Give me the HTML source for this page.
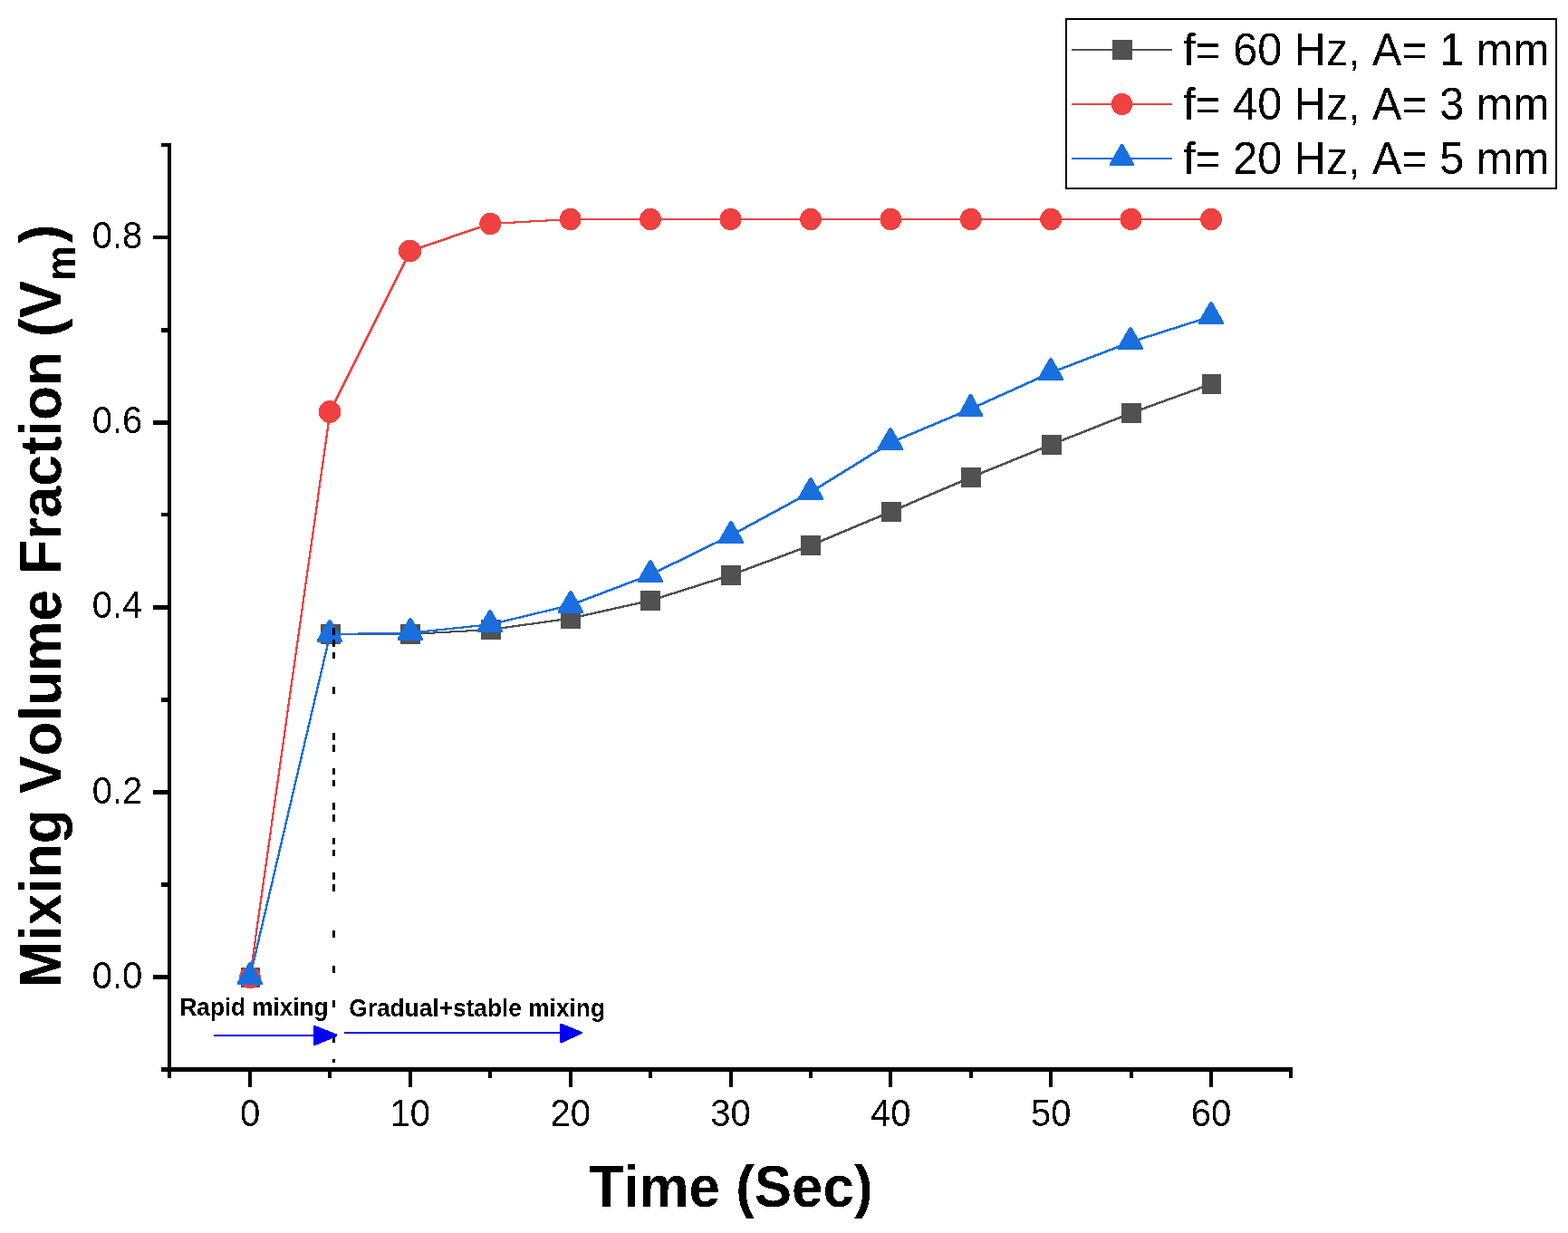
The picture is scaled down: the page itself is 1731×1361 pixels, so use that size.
<!DOCTYPE html>
<html lang="en"><head><meta charset="utf-8"><title>Mixing Volume Fraction vs Time</title>
<style>
html,body{margin:0;padding:0;background:#fff;}
body{width:1731px;height:1361px;overflow:hidden;}
svg{display:block;}
text{font-family:"Liberation Sans",sans-serif;fill:#000;font-kerning:none;}
.tick{font-size:40px;}
.title{font-size:61.9px;font-weight:bold;}
.ytitle{font-size:62.3px;font-weight:bold;}
.sub{font-size:43.5px;font-weight:bold;}
.leg{font-size:48.55px;}
.ann{font-size:26.15px;font-weight:bold;}
.ann2{font-size:26.3px;font-weight:bold;}
</style></head><body>
<svg width="1731" height="1361" viewBox="0 0 1731 1361">
<defs><filter id="alias" x="-5%" y="-5%" width="110%" height="110%" color-interpolation-filters="sRGB"><feComponentTransfer><feFuncA type="discrete" tableValues="0 1"/></feComponentTransfer></filter></defs>
<rect x="0" y="0" width="1731" height="1361" fill="#ffffff"/>
<g id="series" shape-rendering="crispEdges">
<g stroke="#515151" fill="none"><line x1="276.0" y1="1078.5" x2="364.4" y2="700.0" stroke-width="2.40"/><line x1="364.4" y1="700.0" x2="452.8" y2="700.0" stroke-width="2.00"/><line x1="452.8" y1="700.0" x2="541.3" y2="695.0" stroke-width="2.11"/><line x1="541.3" y1="695.0" x2="629.7" y2="682.6" stroke-width="2.26"/><line x1="629.7" y1="682.6" x2="718.1" y2="662.9" stroke-width="2.39"/><line x1="718.1" y1="662.9" x2="806.5" y2="634.9" stroke-width="2.51"/><line x1="806.5" y1="634.9" x2="894.9" y2="602.0" stroke-width="2.57"/><line x1="894.9" y1="602.0" x2="983.3" y2="564.9" stroke-width="2.62"/><line x1="983.3" y1="564.9" x2="1071.8" y2="526.9" stroke-width="2.63"/><line x1="1071.8" y1="526.9" x2="1160.2" y2="490.9" stroke-width="2.61"/><line x1="1160.2" y1="490.9" x2="1248.6" y2="456.0" stroke-width="2.59"/><line x1="1248.6" y1="456.0" x2="1337.0" y2="423.9" stroke-width="2.56"/></g>
<rect x="266" y="1068" width="21" height="22" fill="#515151"/>
<rect x="354" y="689" width="22" height="22" fill="#515151"/>
<rect x="442" y="689" width="22" height="22" fill="#515151"/>
<rect x="531" y="684" width="22" height="22" fill="#515151"/>
<rect x="619" y="672" width="22" height="22" fill="#515151"/>
<rect x="707" y="652" width="22" height="22" fill="#515151"/>
<rect x="796" y="624" width="22" height="22" fill="#515151"/>
<rect x="884" y="591" width="22" height="22" fill="#515151"/>
<rect x="973" y="554" width="22" height="22" fill="#515151"/>
<rect x="1061" y="516" width="22" height="22" fill="#515151"/>
<rect x="1150" y="480" width="22" height="22" fill="#515151"/>
<rect x="1238" y="445" width="22" height="22" fill="#515151"/>
<rect x="1327" y="413" width="21" height="22" fill="#515151"/>
<g stroke="#F14040" fill="none"><line x1="276.0" y1="1078.5" x2="364.4" y2="454.5" stroke-width="2.26"/><line x1="364.4" y1="454.5" x2="452.8" y2="277.0" stroke-width="2.68"/><line x1="452.8" y1="277.0" x2="541.3" y2="247.0" stroke-width="2.54"/><line x1="541.3" y1="247.0" x2="629.7" y2="242.0" stroke-width="2.11"/><line x1="629.7" y1="242.0" x2="718.1" y2="242.0" stroke-width="2.00"/><line x1="718.1" y1="242.0" x2="806.5" y2="242.0" stroke-width="2.00"/><line x1="806.5" y1="242.0" x2="894.9" y2="242.0" stroke-width="2.00"/><line x1="894.9" y1="242.0" x2="983.3" y2="242.0" stroke-width="2.00"/><line x1="983.3" y1="242.0" x2="1071.8" y2="242.0" stroke-width="2.00"/><line x1="1071.8" y1="242.0" x2="1160.2" y2="242.0" stroke-width="2.00"/><line x1="1160.2" y1="242.0" x2="1248.6" y2="242.0" stroke-width="2.00"/><line x1="1248.6" y1="242.0" x2="1337.0" y2="242.0" stroke-width="2.00"/></g>
<ellipse cx="276.00" cy="1079.00" rx="11.9" ry="12.2" fill="#F14040"/>
<ellipse cx="364.00" cy="454.50" rx="12.2" ry="12.45" fill="#F14040"/>
<ellipse cx="452.50" cy="277.00" rx="12.6" ry="12.2" fill="#F14040"/>
<ellipse cx="541.25" cy="247.00" rx="11.9" ry="12.2" fill="#F14040"/>
<ellipse cx="629.67" cy="242.00" rx="11.9" ry="12.2" fill="#F14040"/>
<ellipse cx="718.08" cy="242.00" rx="11.9" ry="12.2" fill="#F14040"/>
<ellipse cx="806.50" cy="242.00" rx="11.9" ry="12.2" fill="#F14040"/>
<ellipse cx="894.92" cy="242.00" rx="11.9" ry="12.2" fill="#F14040"/>
<ellipse cx="983.33" cy="242.00" rx="11.9" ry="12.2" fill="#F14040"/>
<ellipse cx="1071.75" cy="242.00" rx="11.9" ry="12.2" fill="#F14040"/>
<ellipse cx="1160.17" cy="242.00" rx="11.9" ry="12.2" fill="#F14040"/>
<ellipse cx="1248.58" cy="242.00" rx="11.9" ry="12.2" fill="#F14040"/>
<ellipse cx="1337.00" cy="242.00" rx="11.9" ry="12.2" fill="#F14040"/>
<g stroke="#1A6FDF" fill="none"><line x1="276.0" y1="1078.5" x2="364.4" y2="700.0" stroke-width="2.40"/><line x1="364.4" y1="700.0" x2="452.8" y2="698.6" stroke-width="2.03"/><line x1="452.8" y1="698.6" x2="541.3" y2="689.3" stroke-width="2.20"/><line x1="541.3" y1="689.3" x2="629.7" y2="668.0" stroke-width="2.41"/><line x1="629.7" y1="668.0" x2="718.1" y2="634.4" stroke-width="2.58"/><line x1="718.1" y1="634.4" x2="806.5" y2="591.2" stroke-width="2.67"/><line x1="806.5" y1="591.2" x2="894.9" y2="543.4" stroke-width="2.71"/><line x1="894.9" y1="543.4" x2="983.3" y2="488.6" stroke-width="2.75"/><line x1="983.3" y1="488.6" x2="1071.8" y2="451.3" stroke-width="2.62"/><line x1="1071.8" y1="451.3" x2="1160.2" y2="411.3" stroke-width="2.65"/><line x1="1160.2" y1="411.3" x2="1248.6" y2="377.5" stroke-width="2.58"/><line x1="1248.6" y1="377.5" x2="1337.0" y2="349.3" stroke-width="2.51"/></g>
<polygon points="274.8,1062.0 277.2,1062.0 290.0,1084.4 290.0,1087.0 262.0,1087.0 262.0,1084.4" fill="#1A6FDF"/>
<polygon points="362.8,684.0 365.2,684.0 378.0,706.4 378.0,709.0 350.0,709.0 350.0,706.4" fill="#1A6FDF"/>
<polygon points="451.8,682.0 454.2,682.0 467.0,704.4 467.0,707.0 439.0,707.0 439.0,704.4" fill="#1A6FDF"/>
<polygon points="539.8,673.0 542.2,673.0 555.0,695.4 555.0,698.0 527.0,698.0 527.0,695.4" fill="#1A6FDF"/>
<polygon points="628.8,652.0 631.2,652.0 644.0,674.4 644.0,677.0 616.0,677.0 616.0,674.4" fill="#1A6FDF"/>
<polygon points="716.8,618.0 719.2,618.0 732.0,640.4 732.0,643.0 704.0,643.0 704.0,640.4" fill="#1A6FDF"/>
<polygon points="805.8,575.0 808.2,575.0 821.0,597.4 821.0,600.0 793.0,600.0 793.0,597.4" fill="#1A6FDF"/>
<polygon points="893.8,527.0 896.2,527.0 909.0,549.4 909.0,552.0 881.0,552.0 881.0,549.4" fill="#1A6FDF"/>
<polygon points="981.8,472.0 984.2,472.0 997.0,494.4 997.0,497.0 969.0,497.0 969.0,494.4" fill="#1A6FDF"/>
<polygon points="1070.3,435.0 1072.7,435.0 1085.0,457.4 1085.0,460.0 1058.0,460.0 1058.0,457.4" fill="#1A6FDF"/>
<polygon points="1158.8,395.0 1161.2,395.0 1174.0,417.4 1174.0,420.0 1146.0,420.0 1146.0,417.4" fill="#1A6FDF"/>
<polygon points="1246.8,361.0 1249.2,361.0 1262.0,383.4 1262.0,386.0 1234.0,386.0 1234.0,383.4" fill="#1A6FDF"/>
<polygon points="1335.8,333.0 1338.2,333.0 1351.0,355.4 1351.0,358.0 1323.0,358.0 1323.0,355.4" fill="#1A6FDF"/>
</g>
<g id="separator" fill="#000" shape-rendering="crispEdges">
<rect x="367" y="693" width="3" height="8"/>
<rect x="367" y="706" width="3" height="8"/>
<rect x="367" y="720" width="3" height="7"/>
<rect x="367" y="758" width="3" height="8"/>
<rect x="367" y="809" width="3" height="8"/>
<rect x="367" y="822" width="3" height="8"/>
<rect x="367" y="848" width="3" height="7"/>
<rect x="367" y="861" width="3" height="7"/>
<rect x="367" y="886" width="3" height="8"/>
<rect x="367" y="899" width="3" height="8"/>
<rect x="367" y="925" width="3" height="7"/>
<rect x="367" y="938" width="3" height="7"/>
<rect x="367" y="963" width="3" height="8"/>
<rect x="367" y="976" width="3" height="8"/>
<rect x="367" y="1027" width="3" height="8"/>
<rect x="367" y="1066" width="3" height="8"/>
<rect x="367" y="1104" width="3" height="8"/>
<rect x="367" y="1145" width="3" height="6"/>
<rect x="367" y="1169" width="3" height="4"/>
</g>
<g id="axes" fill="#000" shape-rendering="crispEdges">
<rect x="185" y="158" width="4" height="1032"/>
<rect x="178" y="1178" width="1249" height="5"/>
<rect x="274" y="1178" width="4" height="22"/>
<rect x="362" y="1178" width="4" height="12"/>
<rect x="451" y="1178" width="4" height="22"/>
<rect x="539" y="1178" width="4" height="12"/>
<rect x="628" y="1178" width="4" height="22"/>
<rect x="716" y="1178" width="4" height="12"/>
<rect x="805" y="1178" width="4" height="22"/>
<rect x="893" y="1178" width="4" height="12"/>
<rect x="981" y="1178" width="4" height="22"/>
<rect x="1070" y="1178" width="4" height="12"/>
<rect x="1158" y="1178" width="4" height="22"/>
<rect x="1247" y="1178" width="4" height="12"/>
<rect x="1335" y="1178" width="4" height="22"/>
<rect x="1423" y="1178" width="4" height="12"/>
<rect x="169" y="1076" width="20" height="5"/>
<rect x="178" y="974" width="11" height="5"/>
<rect x="169" y="872" width="20" height="5"/>
<rect x="178" y="770" width="11" height="5"/>
<rect x="169" y="668" width="20" height="5"/>
<rect x="178" y="566" width="11" height="4"/>
<rect x="169" y="464" width="20" height="5"/>
<rect x="178" y="362" width="11" height="5"/>
<rect x="169" y="260" width="20" height="4"/>
<rect x="178" y="158" width="11" height="4"/>
</g>
<g id="ticklabels">
<text filter="url(#alias)" class="tick" transform="translate(276.00,1243.00) scale(1,1.04)" text-anchor="middle">0</text>
<text filter="url(#alias)" class="tick" transform="translate(452.83,1243.00) scale(1,1.04)" text-anchor="middle">10</text>
<text filter="url(#alias)" class="tick" transform="translate(629.67,1243.00) scale(1,1.04)" text-anchor="middle">20</text>
<text filter="url(#alias)" class="tick" transform="translate(806.50,1243.00) scale(1,1.04)" text-anchor="middle">30</text>
<text filter="url(#alias)" class="tick" transform="translate(983.33,1243.00) scale(1,1.04)" text-anchor="middle">40</text>
<text filter="url(#alias)" class="tick" transform="translate(1160.17,1243.00) scale(1,1.04)" text-anchor="middle">50</text>
<text filter="url(#alias)" class="tick" transform="translate(1337.00,1243.00) scale(1,1.04)" text-anchor="middle">60</text>
<text filter="url(#alias)" class="tick" transform="translate(157.30,1090.90) scale(1,1.04)" text-anchor="end">0.0</text>
<text filter="url(#alias)" class="tick" transform="translate(157.30,886.80) scale(1,1.04)" text-anchor="end">0.2</text>
<text filter="url(#alias)" class="tick" transform="translate(157.30,682.00) scale(1,1.04)" text-anchor="end">0.4</text>
<text filter="url(#alias)" class="tick" transform="translate(157.30,478.00) scale(1,1.04)" text-anchor="end">0.6</text>
<text filter="url(#alias)" class="tick" transform="translate(157.30,274.00) scale(1,1.04)" text-anchor="end">0.8</text>
</g>
<text filter="url(#alias)" class="title" transform="translate(650.50,1332.00) scale(1,1.04)">Time (Sec)</text>
<text filter="url(#alias)" class="ytitle" transform="translate(67.30,1090.50) rotate(-90) scale(1,1.045)">Mixing Volume Fraction <tspan dx="-1.3">(V</tspan><tspan class="sub" dy="15.3">m</tspan><tspan dy="-15.3" dx="2.5">)</tspan></text>
<g id="annotations">
<text filter="url(#alias)" class="ann" transform="translate(198.50,1121.00) scale(1,1.04)">Rapid mixing</text>
<text filter="url(#alias)" class="ann2" transform="translate(385.20,1122.20) scale(1,1.04)">Gradual+stable mixing</text>
<g fill="#0000FF" shape-rendering="crispEdges">
<rect x="236" y="1142" width="136" height="2"/>
<polygon points="346,1132 348,1132 372,1141.6 372,1144 348,1154 346,1154"/>
<rect x="380" y="1139" width="263" height="2"/>
<polygon points="618,1130 620.5,1130 643,1139.2 643,1140.8 620.5,1151 618,1151"/>
</g></g>
<g id="legend" shape-rendering="crispEdges">
<rect x="1177" y="21" width="541" height="187" fill="#fff" stroke="#000" stroke-width="2" shape-rendering="crispEdges"/>
<rect x="1183" y="54" width="111" height="2" fill="#515151" shape-rendering="crispEdges"/>
<rect x="1228" y="44" width="22" height="22" fill="#515151"/>
<text filter="url(#alias)" class="leg" transform="translate(1306.05,71.80) scale(1,1.04)">f= 60 Hz, A= 1 mm</text>
<rect x="1183" y="114" width="111" height="2" fill="#F14040" shape-rendering="crispEdges"/>
<ellipse cx="1238.50" cy="115.00" rx="11.7" ry="12.2" fill="#F14040"/>
<text filter="url(#alias)" class="leg" transform="translate(1306.05,131.80) scale(1,1.04)">f= 40 Hz, A= 3 mm</text>
<rect x="1183" y="174" width="111" height="2" fill="#1A6FDF" shape-rendering="crispEdges"/>
<polygon points="1237.3,159.0 1239.7,159.0 1252.0,180.4 1252.0,183.0 1225.0,183.0 1225.0,180.4" fill="#1A6FDF"/>
<text filter="url(#alias)" class="leg" transform="translate(1306.05,191.80) scale(1,1.04)">f= 20 Hz, A= 5 mm</text>
</g>
</svg>
</body></html>
